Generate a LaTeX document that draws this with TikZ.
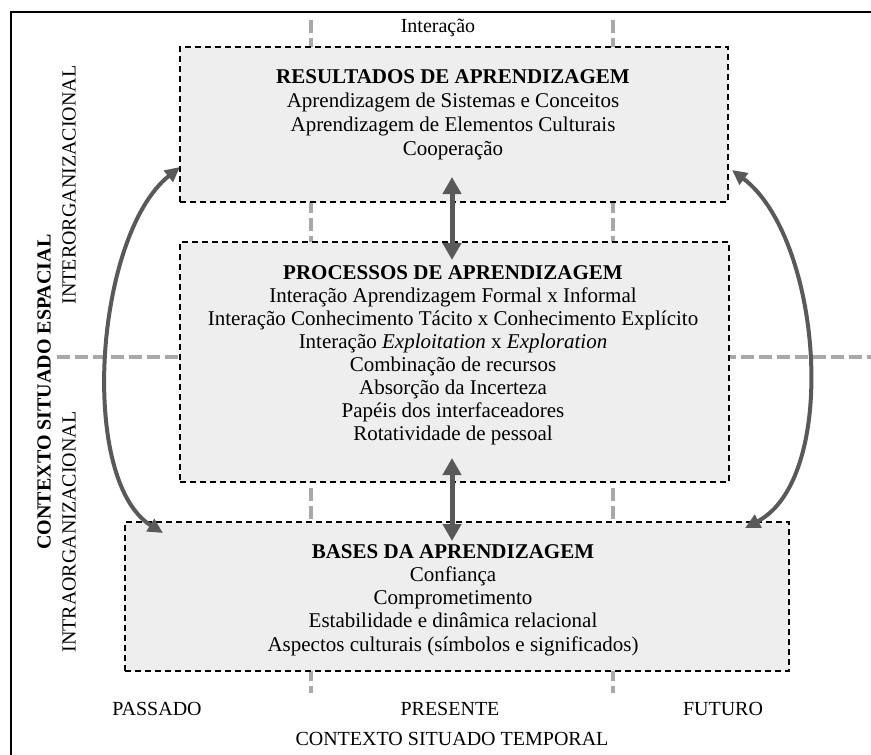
\documentclass[tikz,border=0pt]{standalone}
\usepackage{fontspec}
\setmainfont{Liberation Serif}
\usetikzlibrary{arrows.meta}
\definecolor{boxfill}{HTML}{EEEEEE}
\definecolor{guide}{HTML}{A8A8A8}
\definecolor{arrowgray}{HTML}{595959}
\tikzset{
  stagebox/.style={rectangle, draw=black, line width=1.4pt, dash pattern=on 6pt off 4pt,
    fill=boxfill, inner sep=0pt},
  boxtext/.style={align=center, inner sep=0pt, anchor=north},
  guideline/.style={draw=guide, line width=4pt, dash pattern=on 13pt off 5pt},
  stagelink/.style={draw=arrowgray, line width=5pt,
    {Triangle[length=17pt,width=18pt]}-{Triangle[length=17pt,width=18pt]}},
  looplink/.style={draw=arrowgray, line width=4pt,
    {Triangle[length=15pt,width=14pt]}-{Triangle[length=15pt,width=14pt]}},
  axistext/.style={inner sep=0pt, font=\fontsize{20}{24}\selectfont},
}
\begin{document}
\begin{tikzpicture}[x=1pt,y=-1pt]
\useasboundingbox (0,0) rectangle (871,755);

% outer frame (left and top edges)
\draw[line width=2pt] (11,755) -- (11,12) -- (871,12);

% time and space guide lines
\coordinate (gvA1) at (311,20);  \coordinate (gvA2) at (311,693);
\coordinate (gvB1) at (613,20);  \coordinate (gvB2) at (613,693);
\coordinate (gh1)  at (57,357);  \coordinate (gh2)  at (871,357);
\draw[guideline] (gvA1) -- (gvA2);
\draw[guideline] (gvB1) -- (gvB2);
\draw[guideline] (gh1) -- (gh2);

% the three stages
\node[stagebox, minimum width=548pt, minimum height=155pt] (res)   at (454,124.5) {};
\node[stagebox, minimum width=549pt, minimum height=240pt] (proc)  at (454.5,362) {};
\node[stagebox, minimum width=664pt, minimum height=149pt] (bases) at (457,596.5) {};

\node[boxtext, font=\fontsize{21}{24}\selectfont] (resT) at (453,69)
  {\textbf{RESULTADOS DE APRENDIZAGEM}\\
   Aprendizagem de Sistemas e Conceitos\\
   Aprendizagem de Elementos Culturais\\
   Cooperação};
\node[boxtext, font=\fontsize{21}{23}\selectfont] (procT) at (453,265)
  {\textbf{PROCESSOS DE APRENDIZAGEM}\\
   Interação Aprendizagem Formal x Informal\\
   Interação Conhecimento Tácito x Conhecimento Explícito\\
   Interação \textit{Exploitation} x \textit{Exploration}\\
   Combinação de recursos\\
   Absorção da Incerteza\\
   Papéis dos interfaceadores\\
   Rotatividade de pessoal};
\node[boxtext, font=\fontsize{21}{23.25}\selectfont] (basesT) at (453,544)
  {\textbf{BASES DA APRENDIZAGEM}\\
   Confiança\\
   Comprometimento\\
   Estabilidade e dinâmica relacional\\
   Aspectos culturais (símbolos e significados)};

% links between stages
\coordinate (l1a) at (452,177);  \coordinate (l1b) at (452,260);
\coordinate (l2a) at (452,458);  \coordinate (l2b) at (452,541);
\draw[stagelink] (l1a) -- (l1b);
\draw[stagelink] (l2a) -- (l2b);

% feedback loops between results and bases
\coordinate (lt) at (180,167);  \coordinate (lb) at (163,533);
\coordinate (rt) at (732,170);  \coordinate (rb) at (745,528);
\draw[looplink] (lt) .. controls (95,235) and (78,480) .. (lb);
\draw[looplink] (rt) .. controls (822,238) and (840,478) .. (rb);

% axis labels
\node[axistext, anchor=base] (interacao) at (438,32) {Interação};
\node[axistext, rotate=90, font=\fontsize{20}{24}\selectfont\bfseries] (espacial) at (44,392) {CONTEXTO SITUADO ESPACIAL};
\node[axistext, rotate=90] (inter) at (69,185) {INTERORGANIZACIONAL};
\node[axistext, rotate=90] (intra) at (69,532) {INTRAORGANIZACIONAL};
\node[axistext, anchor=base] (passado)  at (157,715) {PASSADO};
\node[axistext, anchor=base] (presente) at (450,715) {PRESENTE};
\node[axistext, anchor=base] (futuro)   at (723,715) {FUTURO};
\node[axistext, anchor=base] (temporal) at (452,745) {CONTEXTO SITUADO TEMPORAL};
\end{tikzpicture}
\end{document}
